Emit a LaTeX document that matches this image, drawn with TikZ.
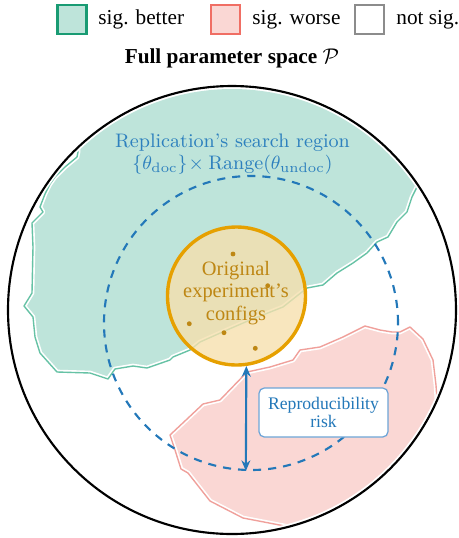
\documentclass[tikz,border=0pt]{standalone}
\usepackage{fontspec}
\newfontfamily\tms{Liberation Serif}
\usetikzlibrary{arrows.meta}

\definecolor{betterfill}{RGB}{190,228,218}
\definecolor{betterline}{RGB}{102,194,165}
\definecolor{betterkey}{RGB}{25,155,115}
\definecolor{worsefill}{RGB}{250,215,212}
\definecolor{worseline}{RGB}{240,160,155}
\definecolor{worsekey}{RGB}{240,110,100}
\definecolor{neutralkey}{RGB}{140,140,140}
\definecolor{searchblue}{RGB}{35,120,185}
\definecolor{labelblue}{RGB}{45,128,190}
\definecolor{boxline}{RGB}{110,165,215}
\definecolor{origline}{RGB}{230,160,0}
\definecolor{origfill}{RGB}{246,224,174}
\definecolor{origtext}{RGB}{190,135,20}

\begin{document}
\begin{tikzpicture}[
  x=0.47pt, y=-0.47pt,
  keybox/.style={draw, line width=1pt, minimum size=13.6pt, inner sep=0pt},
  keytext/.style={anchor=west, inner sep=0pt, font=\tms\fontsize{10}{12}\selectfont},
  regionline/.style={line width=0.65pt, line join=round},
  gapline/.style={white, line width=2.2pt, line join=round},
]
\useasboundingbox (0,0) rectangle (459,538);

% legend
\node[keybox, draw=betterkey, fill=betterfill] (kbetter) at (72,19.5) {};
\node[keytext] (tbetter) at (98,19.5) {sig. better};
\node[keybox, draw=worsekey, fill=worsefill] (kworse) at (225.5,19.5) {};
\node[keytext] (tworse) at (252,19.5) {sig. worse};
\node[keybox, draw=neutralkey, fill=white] (kneutral) at (369.5,19.5) {};
\node[keytext] (tneutral) at (396,19.5) {not sig.};

% title
\node[font=\tms\bfseries\fontsize{10}{12}\selectfont] (title) at (232,58)
  {Full parameter space $\mathcal{P}$};

% outline of the full space
\node[circle, draw=black, line width=1pt, minimum size=448*0.47pt, inner sep=0pt]
  (space) at (232,310) {};

\def\betterpath{(30,40) -- (79,120) -- (78,152) -- (77,157) -- (65,167) -- (55,177)
  -- (50,184) -- (45,194) -- (40,207) -- (43,212) -- (32,223) -- (33,247)
  -- (32,293) -- (24,306) -- (33,317) -- (35,337) -- (40,353) -- (57,372)
  -- (90,373) -- (108,379) -- (115,369) -- (133,366) -- (147,368) -- (170,360)
  -- (173,357) -- (190,350) -- (200,342) -- (227,330) -- (250,320) -- (283,307)
  -- (307,288) -- (323,285) -- (337,273) -- (353,263) -- (367,253) -- (377,242)
  -- (388,237) -- (397,222) -- (407,212) -- (412,197) -- (417,187) -- (440,150)
  -- (450,40) -- cycle}

\def\worsepath{(170,435) -- (186,420) -- (203,404) -- (220,400) -- (247,372)
  -- (270,367) -- (293,360) -- (300,350) -- (320,347) -- (343,337) -- (365,326)
  -- (380,330) -- (392,332) -- (400,332) -- (410,327) -- (423,339) -- (433,360)
  -- (436,385) -- (437,400) -- (470,420) -- (470,560) -- (300,560) -- (290,527)
  -- (243,518) -- (210,501) -- (188,473) -- (181,469) -- (175,450) -- cycle}

% significance regions, kept inside the space
\begin{scope}
  \clip (232,310) circle[radius=221*0.47pt];
  \fill[betterfill, rounded corners=3pt] \betterpath;
  \draw[gapline] \betterpath;
  \draw[regionline, betterline] \betterpath;
  \fill[worsefill, rounded corners=3pt] \worsepath;
  \draw[gapline] \worsepath;
  \draw[regionline, worseline] \worsepath;
\end{scope}

% search region of the replication
\node[circle, draw=searchblue, line width=1pt, dash pattern=on 3.8pt off 3.3pt,
  minimum size=294*0.47pt, inner sep=0pt] (search) at (251,323) {};
\node[text=labelblue, align=center, font=\fontsize{9.2}{10.5}\selectfont]
  (searchlabel) at (232.5,154)
  {Replication’s search region\\$\{\theta_{\mathrm{doc}}\}\!\times\mathrm{Range}(\theta_{\mathrm{undoc}})$};

% original configurations
\node[circle, draw=origline, line width=1.6pt, fill=origfill, fill opacity=0.8,
  minimum size=138*0.47pt, inner sep=0pt] (orig) at (236.5,296) {};
\node[text=origtext, align=center, font=\tms\fontsize{9.6}{10.6}\selectfont]
  (origlabel) at (236,293) {Original\\experiment’s\\configs};
\foreach \p in {(233,254),(267.7,285.7),(189.3,323.7),(224,332.7),(255.3,348.3)}
  \fill[origtext] \p circle[radius=1.15pt];

% gap between original and replication
\draw[searchblue, line width=1pt,
  {Stealth[length=5pt,width=4.2pt]}-{Stealth[length=5pt,width=4.2pt]}]
  (orig.-82) -- (search.-92);
\node[draw=boxline, fill=white, rounded corners=2.5pt, line width=0.6pt,
  text=searchblue, align=center, minimum width=129*0.47pt, minimum height=49*0.47pt,
  inner sep=1pt, font=\tms\fontsize{8.3}{8.8}\selectfont]
  (risk) at (323.5,412.5) {Reproducibility\\risk};
\end{tikzpicture}
\end{document}
